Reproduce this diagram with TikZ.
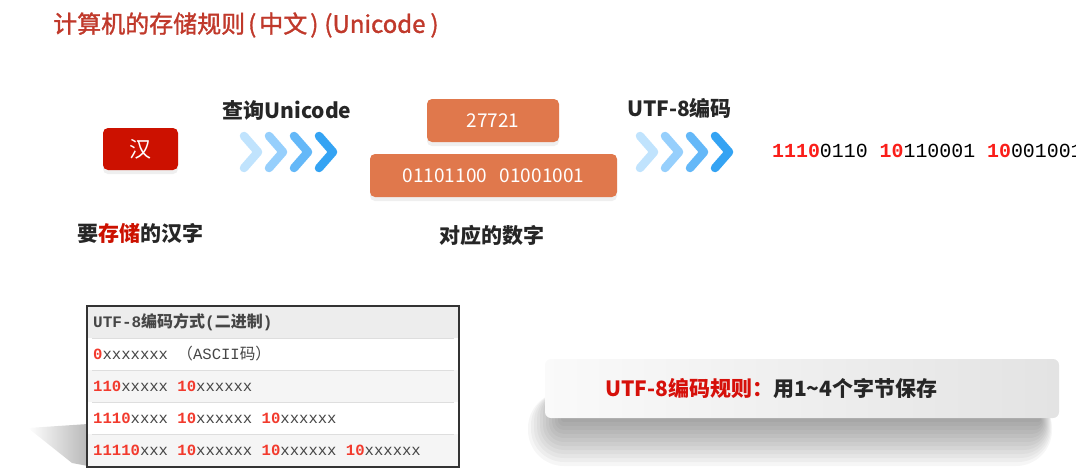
\documentclass[tikz,border=0pt]{standalone}
\usepackage{fontspec}
\setmainfont{Noto Sans CJK SC}
\newfontfamily\cjk{Noto Sans CJK SC}
\newfontfamily\titlefont[FakeBold=1.4]{Noto Sans CJK SC}
\newfontfamily\mono{Liberation Mono}
\usetikzlibrary{shadows}
\definecolor{titlered}{RGB}{192,57,43}
\definecolor{hanred}{RGB}{204,17,0}
\definecolor{numorange}{RGB}{224,120,76}
\definecolor{bitred}{RGB}{250,30,25}
\definecolor{cellred}{RGB}{242,58,45}
\definecolor{rulered}{RGB}{214,16,10}
\definecolor{textdark}{RGB}{38,38,38}
\definecolor{celltext}{RGB}{70,70,70}
\definecolor{chevA}{RGB}{192,227,253}
\definecolor{chevB}{RGB}{150,207,252}
\definecolor{chevC}{RGB}{100,184,248}
\definecolor{chevD}{RGB}{52,163,243}
\newcommand{\fsz}[1]{\fontsize{#1}{#1}\selectfont}
\newcommand{\redbit}[1]{\textcolor{bitred}{\bfseries #1}}
\newcommand{\redcell}[1]{\textcolor{cellred}{\bfseries #1}}
\begin{document}
\begin{tikzpicture}[x=1pt,y=-1pt,
  box/.style={rounded corners=5pt,text=white,inner sep=0pt,font=\fsz{19},
    drop shadow={opacity=0.13,shadow xshift=0pt,shadow yshift=-4pt}},
  lab/.style={inner sep=0pt,font=\fsz{21}\bfseries,text=textdark},
  chev/.style={line width=8.5pt,line cap=round,line join=round},
  cell/.style={anchor=west,inner sep=0pt,font=\fsz{15.6}\mono,text=celltext}]
\useasboundingbox (0,0) rectangle (1076,471);
\clip (0,0) rectangle (1076,471);
\node[anchor=west,inner sep=0pt,text=titlered,font=\fsz{24}\titlefont] (title) at (53,25)
  {计算机的存储规则\hspace{3pt}(\hspace{3pt}中文\hspace{3pt})\hspace{6pt}(Unicode\hspace{5pt})};%标题
% 汉字 -> Unicode
\node[box,fill=hanred,minimum width=75,minimum height=42,font=\fsz{22}] (han) at (140.5,149) {汉};
\node[lab] (hanlab) at (140,233) {要\textcolor{hanred}{存储}的汉字};
\node[lab] (query) at (287,110) {查询Unicode};
\foreach \x/\c in {244/chevA,269/chevB,294/chevC,319/chevD}
  \draw[chev,\c] (\x,136)--(\x+14,152)--(\x,168);
\node[box,fill=numorange,minimum width=132,minimum height=43] (code) at (493,120.5) {27721};
\node[box,fill=numorange,minimum width=247,minimum height=43] (bin) at (493.5,175.5) {01101100\ \ \ 01001001};
\node[lab] (binlab) at (492,235) {对应的数字};
% Unicode -> UTF-8
\node[lab] (utf) at (679.5,108) {UTF-8编码};
\foreach \x/\c in {640/chevA,665/chevB,690/chevC,715/chevD}
  \draw[chev,\c] (\x,136)--(\x+14,152)--(\x,168);
\node[anchor=west,inner sep=0pt,font=\fsz{19.9}\mono,text=black] (bytes) at (772,151)
  {\redbit{1110}0110 \redbit{10}110001 \redbit{10}001001};
% 编码方式表
\shade[left color=white,right color=black!28] (28,428)--(88,424)--(88,466)--(72,463)--cycle;
\fill[black!7] (87,306) rectangle (459,338);
\fill[white] (87,338) rectangle (459,370);
\fill[black!4] (87,370) rectangle (459,402);
\fill[white] (87,402) rectangle (459,434);
\fill[black!4] (87,434) rectangle (459,467);
\foreach \y in {338,370,402,434}
  \draw[black!13] (92,\y)--(454,\y);
\draw[black!80,line width=1.4pt] (87,306) rectangle (459,467);
\node[cell,font=\fsz{16}\mono\bfseries] (head) at (93,322) {UTF-8{\cjk 编码方式}({\cjk 二进制})};
\node[cell] (rowa) at (93,354) {\redcell{0}xxxxxxx {\cjk （}ASCII{\cjk 码）}};
\node[cell] (rowb) at (93,386) {\redcell{110}xxxxx \redcell{10}xxxxxx};
\node[cell] (rowc) at (93,418) {\redcell{1110}xxxx \redcell{10}xxxxxx \redcell{10}xxxxxx};
\node[cell] (rowd) at (93,450.5) {\redcell{11110}xxx \redcell{10}xxxxxx \redcell{10}xxxxxx \redcell{10}xxxxxx};
% 规则
\foreach \i in {1,...,12}
  \fill[black,opacity=0.034,rounded corners=3*\i] (564-3*\i,392) rectangle (1040+\i,418+4*\i);
\shade[rounded corners=6pt,left color=black!2,right color=black!11] (545,359) rectangle (1059,418);
\node[lab,anchor=west] (rule) at (605,388) {\textcolor{rulered}{UTF-8编码规则：}用1\textasciitilde4个字节保存};
\end{tikzpicture}
\end{document}
